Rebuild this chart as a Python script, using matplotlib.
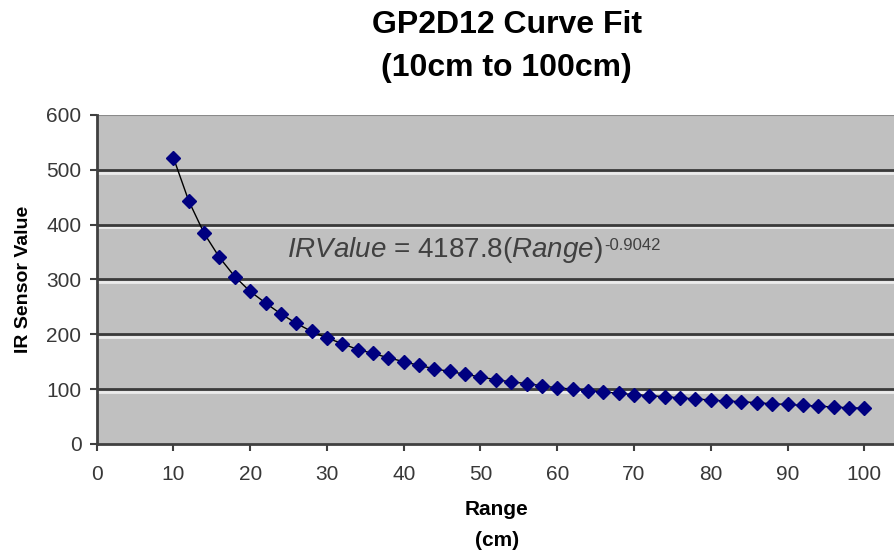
import matplotlib
matplotlib.use("Agg")
import matplotlib.pyplot as plt
import matplotlib.patheffects as pe

plt.rcParams['font.family'] = ['Liberation Sans', 'DejaVu Sans']
plt.rcParams['mathtext.fontset'] = 'custom'
plt.rcParams['mathtext.rm'] = 'Liberation Sans'
plt.rcParams['mathtext.it'] = 'Liberation Sans:italic'

# sensor readings, every 2 cm from 10 to 100
range_cm = list(range(10, 101, 2))
ir_value = [522, 443, 384, 340, 305, 278, 257, 237, 220, 205,
            193, 183, 172, 165, 157, 150, 143, 137, 132, 127,
            122, 117, 113, 110, 106, 102, 100, 97, 95, 92,
            90, 88, 86, 84, 82, 80, 78, 77, 75, 73,
            72, 70, 69, 67, 66, 65]
x_ticks = list(range(0, 101, 10))
y_ticks = list(range(0, 601, 100))

fig = plt.figure(figsize=(8.95, 5.5), dpi=100)
ax = fig.add_axes([0.108, 0.193, 0.892, 0.598])
ax.set_facecolor('#c0c0c0')

ax.plot(range_cm, ir_value, color='black', lw=1, marker='D', ms=7,
        mfc='#000080', mec='#000080', zorder=3)

ax.set_xlim(0, 104)
ax.set_ylim(0, 600)
ax.set_xticks(x_ticks)
ax.set_yticks(y_ticks)
ax.tick_params(colors='#404040', labelcolor='#383838', labelsize=15,
               direction='out', length=5, width=1.5)
ax.tick_params(axis='x', pad=10)
ax.tick_params(axis='y', pad=6)

for v in y_ticks[1:-1]:
    ax.axhline(v, color='#3a3a3a', lw=2, zorder=1,
               path_effects=[pe.SimpleLineShadow(offset=(0, -2), shadow_color='white', alpha=0.7),
                             pe.Normal()])

for s in ['top', 'right']:
    ax.spines[s].set_visible(False)
ax.axhline(600, color='#8a8a8a', lw=1.5, zorder=1)
ax.spines['left'].set_color('#404040')
ax.spines['left'].set_linewidth(2)
ax.spines['bottom'].set_color('#404040')
ax.spines['bottom'].set_linewidth(2)

eq = ax.text(24.8, 354, r'$\mathit{IRValue}$ = 4187.8($\mathit{Range}$)',
             fontsize=20, color='#404040', va='center')
ax.annotate('-0.9042', xy=(1, 1), xycoords=eq, xytext=(1, -2),
            textcoords='offset points', fontsize=12, color='#404040', va='top')

fig.text(0.566, 0.955, 'GP2D12 Curve Fit', fontsize=23, fontweight='bold',
         ha='center', va='center')
fig.text(0.566, 0.876, '(10cm to 100cm)', fontsize=23, fontweight='bold',
         ha='center', va='center')
fig.text(0.555, 0.073, 'Range', fontsize=15, fontweight='bold', ha='center', va='center')
fig.text(0.555, 0.018, '(cm)', fontsize=15, fontweight='bold', ha='center', va='center')
ax.set_ylabel('IR Sensor Value', fontsize=14, fontweight='bold', labelpad=10)

fig.savefig('out.png', dpi=100)
